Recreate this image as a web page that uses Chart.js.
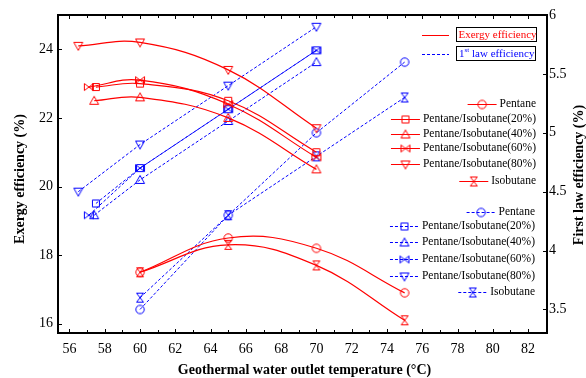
<!DOCTYPE html>
<html>
<head>
<meta charset="utf-8">
<script src="https://cdn.jsdelivr.net/npm/chart.js@4/dist/chart.umd.min.js"></script>
<style>
  html, body { margin: 0; padding: 0; background: #fff; }
  #wrap { width: 586px; height: 378px; }
</style>
</head>
<body>
<div id="wrap"><canvas id="chart" width="586" height="378"></canvas></div>
<script>
// Working fluids
const fluidNames = ['Pentane', 'Pentane/Isobutane(20%)', 'Pentane/Isobutane(40%)',
                    'Pentane/Isobutane(60%)', 'Pentane/Isobutane(80%)', 'Isobutane'];

// Geothermal water outlet temperature (°C) per fluid
const tPentane   = [60, 65, 70, 75];
const tMix20     = [57.5, 60, 65, 70];
const tMix40     = [57.4, 60, 65, 70];
const tMix60     = [57.1, 60, 65, 70];
const tMix80     = [56.5, 60, 65, 70];
const tIsobutane = [60, 65, 70, 75];

// Exergy efficiency (%) - left axis
const exPentane   = [17.5, 18.5, 18.2, 16.9];
const exMix20     = [22.9, 23.0, 22.5, 21.0];
const exMix40     = [22.5, 22.6, 22.0, 20.5];
const exMix60     = [22.9, 23.1, 22.4, 20.85];
const exMix80     = [24.1, 24.2, 23.4, 21.7];
const exIsobutane = [17.5, 18.3, 17.7, 16.1];

// First law efficiency (%) - right axis
const flPentane   = [3.5, 4.3, 5.0, 5.6];
const flMix20     = [4.4, 4.7, 5.2, 5.7];
const flMix40     = [4.3, 4.6, 5.1, 5.6];
const flMix60     = [4.3, 4.7, 5.2, 5.7];
const flMix80     = [4.5, 4.9, 5.4, 5.9];
const flIsobutane = [3.6, 4.3, 4.8, 5.3];

// Tick labels
const xTicks  = [56, 58, 60, 62, 64, 66, 68, 70, 72, 74, 76, 78, 80, 82];
const yTicks  = [16, 18, 20, 22, 24];
const y2Ticks = [3.5, 4, 4.5, 5, 5.5, 6];

const RED = '#ff0000';
const BLUE = '#0000ff';
const SERIF = '"Liberation Serif", "Times New Roman", serif';

// Open marker glyphs drawn on small canvases
function makeMarker(kind, color) {
  const c = document.createElement('canvas');
  c.width = 12; c.height = 12;
  const g = c.getContext('2d');
  g.strokeStyle = color;
  g.lineWidth = 1;
  g.beginPath();
  switch (kind) {
    case 'circle':
      g.arc(6, 6, 4.2, 0, Math.PI * 2);
      break;
    case 'square':
      g.rect(2.5, 2.5, 7, 7);
      break;
    case 'triUp':
      g.moveTo(6, 1.5); g.lineTo(10.5, 9.5); g.lineTo(1.5, 9.5); g.closePath();
      break;
    case 'triDown':
      g.moveTo(1.5, 2.5); g.lineTo(10.5, 2.5); g.lineTo(6, 10.5); g.closePath();
      break;
    case 'bowtie':
      g.moveTo(1.5, 2.5); g.lineTo(10.5, 9.5); g.lineTo(10.5, 2.5); g.lineTo(1.5, 9.5); g.closePath();
      break;
    case 'hourglass':
      g.moveTo(2.5, 1.5); g.lineTo(9.5, 1.5); g.lineTo(2.5, 10.5); g.lineTo(9.5, 10.5); g.closePath();
      break;
  }
  g.stroke();
  return c;
}

const markerKinds = ['circle', 'square', 'triUp', 'bowtie', 'triDown', 'hourglass'];
const redMarkers = markerKinds.map(k => makeMarker(k, RED));
const blueMarkers = markerKinds.map(k => makeMarker(k, BLUE));

const temps = [tPentane, tMix20, tMix40, tMix60, tMix80, tIsobutane];
const exergy = [exPentane, exMix20, exMix40, exMix60, exMix80, exIsobutane];
const firstLaw = [flPentane, flMix20, flMix40, flMix60, flMix80, flIsobutane];

const pts = (xs, ys) => xs.map((x, i) => ({ x, y: ys[i] }));

const datasets = [];
fluidNames.forEach((name, i) => {
  datasets.push({
    label: name + ' (exergy)',
    data: pts(temps[i], exergy[i]),
    yAxisID: 'y',
    borderColor: RED,
    borderWidth: 1.2,
    tension: 0.4,
    pointStyle: redMarkers[i],
    pointRadius: 5,
    fill: false
  });
});
fluidNames.forEach((name, i) => {
  datasets.push({
    label: name + ' (first law)',
    data: pts(temps[i], firstLaw[i]),
    yAxisID: 'y2',
    borderColor: BLUE,
    borderWidth: 1,
    borderDash: [3, 2],
    tension: 0,
    pointStyle: blueMarkers[i],
    pointRadius: 5,
    fill: false
  });
});

// Frame, inward ticks, axis titles and the legend block
const decorations = {
  id: 'decorations',
  afterDraw(chart) {
    const ctx = chart.ctx;
    const a = chart.chartArea;
    const xs = chart.scales.x, ys = chart.scales.y, y2s = chart.scales.y2;
    ctx.save();

    // ticks
    ctx.strokeStyle = '#000';
    ctx.lineWidth = 1;
    ctx.beginPath();
    for (let v = 56; v <= 83; v++) {
      const px = Math.round(xs.getPixelForValue(v)) + 0.5;
      const len = v % 2 === 0 ? 4 : 3;
      ctx.moveTo(px, a.bottom); ctx.lineTo(px, a.bottom - len);
      ctx.moveTo(px, a.top); ctx.lineTo(px, a.top + len);
    }
    yTicks.forEach(v => {
      const py = Math.round(ys.getPixelForValue(v)) + 0.5;
      ctx.moveTo(a.left, py); ctx.lineTo(a.left + 4, py);
    });
    y2Ticks.forEach(v => {
      const py = Math.round(y2s.getPixelForValue(v)) + 0.5;
      ctx.moveTo(a.right, py); ctx.lineTo(a.right - 4, py);
    });
    ctx.stroke();

    // frame
    ctx.lineWidth = 2;
    ctx.strokeRect(a.left, a.top, a.right - a.left, a.bottom - a.top);

    // axis titles
    ctx.fillStyle = '#000';
    ctx.font = 'bold 14px ' + SERIF;
    ctx.textAlign = 'center';
    ctx.textBaseline = 'middle';
    ctx.fillText('Geothermal water outlet temperature (\u00B0C)', (a.left + a.right) / 2 + 2, 370);
    ctx.save();
    ctx.translate(20, (a.top + a.bottom) / 2 + 5);
    ctx.rotate(-Math.PI / 2);
    ctx.fillText('Exergy efficiency (%)', 0, 0);
    ctx.restore();
    ctx.save();
    ctx.translate(579, (a.top + a.bottom) / 2 + 1);
    ctx.rotate(-Math.PI / 2);
    ctx.fillText('First law efficiency (%)', 0, 0);
    ctx.restore();

    // legend: line style boxes
    ctx.textAlign = 'left';
    ctx.font = '11px ' + SERIF;
    ctx.lineWidth = 1;
    ctx.strokeStyle = RED;
    ctx.beginPath(); ctx.moveTo(422, 35.5); ctx.lineTo(449, 35.5); ctx.stroke();
    ctx.strokeStyle = '#000';
    ctx.strokeRect(456.5, 27.5, 80, 14);
    ctx.fillStyle = RED;
    ctx.fillText('Exergy efficiency', 458.5, 35);

    ctx.strokeStyle = BLUE;
    ctx.setLineDash([3, 2]);
    ctx.beginPath(); ctx.moveTo(422, 54.5); ctx.lineTo(449, 54.5); ctx.stroke();
    ctx.setLineDash([]);
    ctx.strokeStyle = '#000';
    ctx.strokeRect(456.5, 46.5, 79, 14);
    ctx.fillStyle = BLUE;
    ctx.fillText('1', 459, 54);
    ctx.font = '7px ' + SERIF;
    ctx.fillText('st', 464.5, 50);
    ctx.font = '11px ' + SERIF;
    ctx.fillText('law efficiency', 472, 54);

    // legend: series entries
    ctx.font = '11.5px ' + SERIF;
    ctx.fillStyle = '#000';
    const redRows = [103.5, 118.5, 133.5, 148, 164, 180.5];
    const blueRows = [211.5, 226, 242, 259, 276, 292];
    const entry = (y, name, color, marker, right, dashed) => {
      ctx.textAlign = 'right';
      ctx.fillStyle = '#000';
      ctx.fillText(name, right, y);
      const w = ctx.measureText(name).width;
      const x1 = right - w - 3;
      const x0 = x1 - 29;
      ctx.strokeStyle = color;
      ctx.lineWidth = 1;
      ctx.setLineDash(dashed ? [3, 2] : []);
      ctx.beginPath();
      ctx.moveTo(x0, Math.round(y) + 0.5);
      ctx.lineTo(x1, Math.round(y) + 0.5);
      ctx.stroke();
      ctx.setLineDash([]);
      ctx.drawImage(marker, (x0 + x1) / 2 - 6, Math.round(y) - 5.5);
    };
    fluidNames.forEach((n, i) => entry(redRows[i], n, RED, redMarkers[i], 536, false));
    fluidNames.forEach((n, i) => entry(blueRows[i], n, BLUE, blueMarkers[i], 535, true));

    ctx.restore();
  }
};

new Chart(document.getElementById('chart'), {
  type: 'line',
  data: { datasets },
  options: {
    responsive: false,
    animation: false,
    events: [],
    layout: { padding: { top: 15, left: 0, right: 0, bottom: 0 } },
    plugins: { legend: { display: false }, tooltip: { enabled: false } },
    scales: {
      x: {
        type: 'linear',
        min: 55.35, max: 83.07,
        grid: { display: false, drawTicks: false },
        border: { display: false },
        afterBuildTicks: s => { s.ticks = xTicks.map(v => ({ value: v })); },
        afterFit: s => { s.height = 45; },
        ticks: { color: '#000', font: { family: SERIF, size: 14 }, padding: 8, autoSkip: false, maxRotation: 0 }
      },
      y: {
        position: 'left',
        min: 15.73, max: 25,
        grid: { display: false, drawTicks: false },
        border: { display: false },
        afterBuildTicks: s => { s.ticks = yTicks.map(v => ({ value: v })); },
        afterFit: s => { s.width = 58; },
        ticks: { color: '#000', font: { family: SERIF, size: 14 }, padding: 5 }
      },
      y2: {
        position: 'right',
        min: 3.3, max: 6,
        grid: { display: false, drawTicks: false },
        border: { display: false },
        afterBuildTicks: s => { s.ticks = y2Ticks.map(v => ({ value: v })); },
        afterFit: s => { s.width = 39; },
        ticks: { color: '#000', font: { family: SERIF, size: 14 }, padding: 2, callback: v => String(v) }
      }
    }
  },
  plugins: [decorations]
});
</script>
</body>
</html>
